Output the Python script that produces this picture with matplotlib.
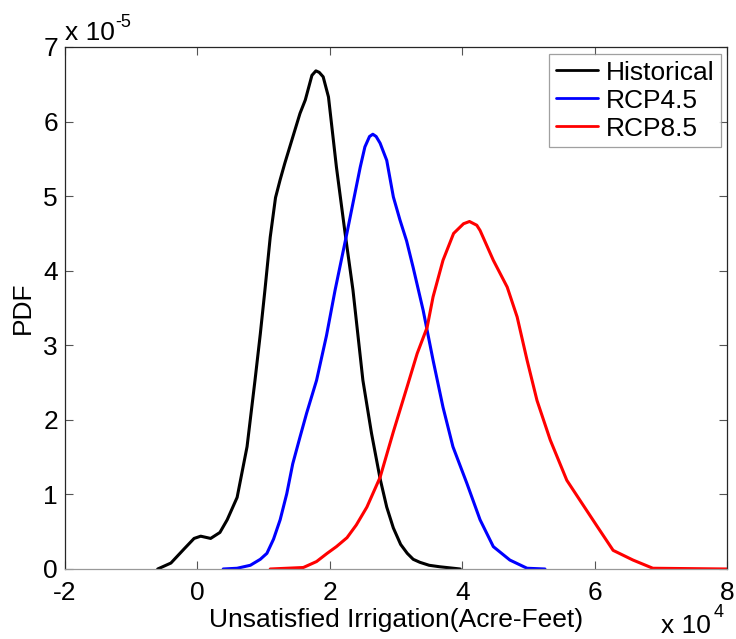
import matplotlib
matplotlib.use("Agg")
import matplotlib.pyplot as plt

plt.rcParams['font.family'] = ['Liberation Sans', 'DejaVu Sans']

# x in units of 1e4 acre-feet, y in units of 1e-5
hist_x = [-0.6, -0.4, -0.2, -0.05, 0.05, 0.2, 0.34, 0.45, 0.6, 0.75, 0.87, 0.95, 1.02, 1.1, 1.18,
          1.25, 1.32, 1.44, 1.55, 1.63, 1.73, 1.79, 1.84, 1.90, 1.98, 2.1, 2.23, 2.35, 2.5, 2.63,
          2.76, 2.86, 2.96, 3.07, 3.17, 3.26, 3.36, 3.5, 3.66, 3.97]
hist_y = [0.0, 0.08, 0.27, 0.41, 0.44, 0.41, 0.49, 0.66, 0.96, 1.64, 2.53, 3.15, 3.74, 4.45, 4.98,
          5.22, 5.44, 5.79, 6.11, 6.29, 6.62, 6.68, 6.66, 6.60, 6.33, 5.39, 4.51, 3.74, 2.53, 1.82,
          1.21, 0.83, 0.55, 0.33, 0.21, 0.13, 0.09, 0.05, 0.03, 0.0]

rcp45_x = [0.39, 0.6, 0.8, 0.95, 1.05, 1.15, 1.25, 1.35, 1.44, 1.55, 1.65, 1.8, 1.95, 2.08, 2.26,
           2.46, 2.53, 2.60, 2.65, 2.70, 2.76, 2.86, 2.96, 3.06, 3.16, 3.26, 3.41, 3.56, 3.71, 3.86,
           4.07, 4.27, 4.47, 4.72, 4.98, 5.25]
rcp45_y = [0.0, 0.01, 0.05, 0.13, 0.21, 0.4, 0.66, 1.01, 1.41, 1.77, 2.09, 2.53, 3.13, 3.74, 4.51,
           5.39, 5.66, 5.80, 5.83, 5.80, 5.71, 5.48, 4.99, 4.68, 4.40, 4.04, 3.47, 2.80, 2.17, 1.64,
           1.15, 0.66, 0.30, 0.12, 0.01, 0.0]

rcp85_x = [1.1, 1.6, 1.8, 1.96, 2.1, 2.26, 2.4, 2.56, 2.76, 2.96, 3.17, 3.32, 3.47, 3.56, 3.71,
           3.87, 4.02, 4.11, 4.22, 4.27, 4.47, 4.68, 4.83, 4.98, 5.13, 5.33, 5.58, 5.78, 6.04, 6.28,
           6.58, 6.88, 8.0]
rcp85_y = [0.0, 0.02, 0.1, 0.21, 0.3, 0.42, 0.59, 0.83, 1.23, 1.84, 2.45, 2.89, 3.24, 3.65, 4.14,
           4.50, 4.63, 4.66, 4.61, 4.54, 4.14, 3.78, 3.38, 2.80, 2.26, 1.73, 1.19, 0.92, 0.57, 0.25,
           0.12, 0.01, 0.0]

labels = ["Historical", "RCP4.5", "RCP8.5"]
colors = ["black", "blue", "red"]
x_ticks = [-2, 0, 2, 4, 6, 8]
y_ticks = [0, 1, 2, 3, 4, 5, 6, 7]

W, H = 736, 639
fig = plt.figure(figsize=(W / 100, H / 100), dpi=100)
ax = fig.add_axes([65 / W, 1 - 569 / H, (727 - 65) / W, (569 - 47) / H])

for xs, ys, lab, c in zip([hist_x, rcp45_x, rcp85_x], [hist_y, rcp45_y, rcp85_y], labels, colors):
    ax.plot(xs, ys, color=c, lw=2.2, label=lab, solid_joinstyle='round', solid_capstyle='round')

FS = 19
ax.set_xlim(-2, 8)
ax.set_ylim(0, 7)
ax.set_xticks(x_ticks)
ax.set_yticks(y_ticks)
ax.set_xticklabels([str(t) for t in x_ticks])
ax.set_yticklabels([str(t) for t in y_ticks])
ax.tick_params(direction='in', top=True, right=True, length=6, width=0.8,
               labelsize=FS, colors='#555555', labelcolor='black')
ax.tick_params(axis='x', pad=8.5)
ax.tick_params(axis='y', pad=5)
for name, s in ax.spines.items():
    s.set_color('#262626' if name != 'bottom' else '#999999')
    s.set_linewidth(0.9)

ax.set_xlabel("Unsatisfied Irrigation(Acre-Feet)", fontsize=FS, labelpad=2)
ax.set_ylabel("PDF", fontsize=FS, labelpad=6)

fig.text(65 / W, 1 - 40 / H, "x 10", fontsize=FS, ha='left', va='baseline')
fig.text(115 / W, 1 - 27 / H, "-5", fontsize=13, ha='left', va='baseline')
fig.text(711 / W, 1 - 633 / H, "x 10", fontsize=FS, ha='right', va='baseline')
fig.text(714 / W, 1 - 617 / H, "4", fontsize=13, ha='left', va='baseline')

leg = ax.legend(loc='upper right', bbox_to_anchor=(721 / W, 1 - 54 / H),
                bbox_transform=fig.transFigure, fontsize=FS, frameon=True, fancybox=False,
                edgecolor='#888888', borderaxespad=0.0, handlelength=1.6,
                handletextpad=0.3, labelspacing=0.15, borderpad=0.25)
leg.get_frame().set_linewidth(0.9)
for ln in leg.get_lines():
    ln.set_linewidth(2.0)

fig.savefig("out.png", dpi=100)
